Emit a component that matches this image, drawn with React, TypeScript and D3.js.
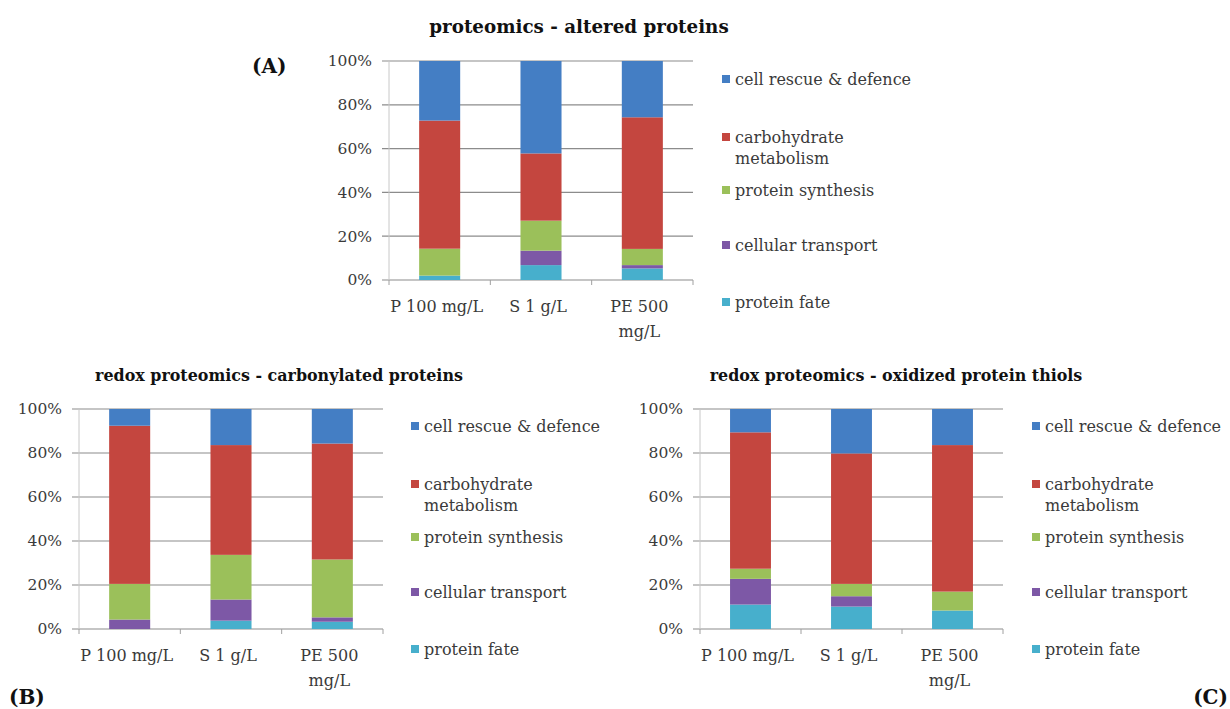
import React, { useEffect, useRef } from 'react';
import * as d3 from 'd3';

// bar labels (second line used for the wrapped one)
const samples = ['P 100 mg/L', 'S 1 g/L', 'PE 500 mg/L'];
const sampleLines = [['P 100 mg/L'], ['S 1 g/L'], ['PE 500', 'mg/L']];

// stacking order, bottom to top
const categories = [
  'protein fate',
  'cellular transport',
  'protein synthesis',
  'carbohydrate metabolism',
  'cell rescue & defence',
];
const legendLines = [
  ['protein fate'],
  ['cellular transport'],
  ['protein synthesis'],
  ['carbohydrate', 'metabolism'],
  ['cell rescue & defence'],
];
const colors = ['#47afcc', '#7d58a6', '#9bc05a', '#c4463f', '#447ec4'];

const yTicks = [0, 20, 40, 60, 80, 100];

// percentages per category (rows) for P, S, PE (columns)
const alteredProteins = [
  [2, 6.8, 5.3],
  [0, 6.6, 1.5],
  [12.3, 13.7, 7.4],
  [58.5, 30.7, 60.1],
  [27.2, 42.2, 25.7],
];
const carbonylatedProteins = [
  [0, 3.8, 3.3],
  [4.3, 9.6, 2.0],
  [16.2, 20.3, 26.3],
  [71.9, 49.9, 52.7],
  [7.6, 16.4, 15.7],
];
const oxidizedThiols = [
  [11.1, 10.2, 8.4],
  [11.7, 4.7, 0],
  [4.6, 5.6, 8.6],
  [62, 59.3, 66.6],
  [10.6, 20.2, 16.4],
];

const panels = [
  {
    title: 'proteomics - altered proteins',
    values: alteredProteins,
    x: 389, w: 304, top: 61, bottom: 280,
    titleX: 579, titleY: 33, titleSize: 18.3,
    legendX: 722, legendY: 79,
  },
  {
    title: 'redox proteomics - carbonylated proteins',
    values: carbonylatedProteins,
    x: 79, w: 304, top: 409, bottom: 629,
    titleX: 279, titleY: 381, titleSize: 15.9,
    legendX: 411, legendY: 426,
  },
  {
    title: 'redox proteomics - oxidized protein thiols',
    values: oxidizedThiols,
    x: 700, w: 303, top: 409, bottom: 629,
    titleX: 896, titleY: 381, titleSize: 15.9,
    legendX: 1032, legendY: 426,
  },
];

const legendOffsets = [223, 166, 111, 58, 0]; // matches categories order

const FONT = '"DejaVu Serif", "Liberation Serif", serif';

export default function App() {
  const svgRef = useRef<SVGSVGElement>(null);

  useEffect(() => {
    if (!svgRef.current) return;
    const svg = d3.select(svgRef.current);
    svg.selectAll('*').remove();

    svg.append('rect').attr('width', 1230).attr('height', 709).attr('fill', '#fff');

    panels.forEach(p => {
      const g = svg.append('g');

      const xScale = d3.scaleBand<string>()
        .domain(samples)
        .range([p.x, p.x + p.w])
        .paddingInner(0.595)
        .paddingOuter(0.2975);

      const yScale = d3.scaleLinear()
        .domain([0, 100])
        .range([p.bottom, p.top]);

      // gridlines + y labels
      yTicks.forEach(t => {
        g.append('line')
          .attr('x1', p.x - 7)
          .attr('x2', p.x + p.w)
          .attr('y1', yScale(t))
          .attr('y2', yScale(t))
          .attr('stroke', '#8c8c8c')
          .attr('stroke-width', 1.2);
        g.append('text')
          .attr('x', p.x - 17)
          .attr('y', yScale(t))
          .attr('dy', '0.35em')
          .attr('text-anchor', 'end')
          .style('font-family', FONT)
          .style('font-size', '15.5px')
          .style('fill', '#3a3a3a')
          .text(`${t}%`);
      });

      // vertical axis line
      g.append('line')
        .attr('x1', p.x).attr('x2', p.x)
        .attr('y1', p.top).attr('y2', p.bottom)
        .attr('stroke', '#c8c8c8');

      // category tick marks under the axis
      const bounds = [p.x, ...samples.map(s => (xScale(s) as number) + xScale.bandwidth() / 2 + xScale.step() / 2)];
      bounds.forEach(bx => {
        g.append('line')
          .attr('x1', bx).attr('x2', bx)
          .attr('y1', p.bottom).attr('y2', p.bottom + 5)
          .attr('stroke', '#a0a0a0');
      });

      // stacked bars
      const rows = samples.map((s, j) => {
        const row: any = { sample: s };
        categories.forEach((c, i) => { row[c] = p.values[i][j]; });
        return row;
      });
      const stacked = d3.stack<any>().keys(categories)(rows);

      stacked.forEach((layer, i) => {
        g.selectAll(null)
          .data(layer)
          .enter()
          .append('rect')
          .attr('x', d => xScale(d.data.sample) as number)
          .attr('width', xScale.bandwidth())
          .attr('y', d => yScale(d[1]))
          .attr('height', d => Math.max(0, yScale(d[0]) - yScale(d[1])))
          .attr('fill', colors[i]);
      });

      // x labels
      samples.forEach((s, j) => {
        const cx = (xScale(s) as number) + xScale.bandwidth() / 2;
        sampleLines[j].forEach((line, k) => {
          g.append('text')
            .attr('x', cx - 3)
            .attr('y', p.bottom + 32 + k * 25)
            .attr('text-anchor', 'middle')
            .style('font-family', FONT)
            .style('font-size', '16px')
            .style('fill', '#3a3a3a')
            .text(line);
        });
      });

      // title
      g.append('text')
        .attr('x', p.titleX)
        .attr('y', p.titleY)
        .attr('text-anchor', 'middle')
        .style('font-family', FONT)
        .style('font-size', `${p.titleSize}px`)
        .style('font-weight', 'bold')
        .style('fill', '#111')
        .text(p.title);

      // legend
      categories.forEach((c, i) => {
        const ly = p.legendY + legendOffsets[i];
        g.append('rect')
          .attr('x', p.legendX)
          .attr('y', ly - 4)
          .attr('width', 8)
          .attr('height', 8)
          .attr('fill', colors[i]);
        legendLines[i].forEach((line, k) => {
          g.append('text')
            .attr('x', p.legendX + 13)
            .attr('y', ly + k * 21)
            .attr('dy', '0.35em')
            .style('font-family', FONT)
            .style('font-size', '16px')
            .style('fill', '#3a3a3a')
            .text(line);
        });
      });
    });

    // panel tags
    const tags = [
      { t: '(A)', x: 252, y: 73, anchor: 'start' },
      { t: '(B)', x: 9, y: 704, anchor: 'start' },
      { t: '(C)', x: 1228, y: 704, anchor: 'end' },
    ];
    tags.forEach(tag => {
      svg.append('text')
        .attr('x', tag.x)
        .attr('y', tag.y)
        .attr('text-anchor', tag.anchor)
        .style('font-family', FONT)
        .style('font-size', '20px')
        .style('font-weight', 'bold')
        .style('fill', '#111')
        .text(tag.t);
    });
  }, []);

  return (
    <svg
      ref={svgRef}
      width={1230}
      height={709}
      style={{ position: 'absolute', left: 0, top: 0, display: 'block' }}
    />
  );
}
